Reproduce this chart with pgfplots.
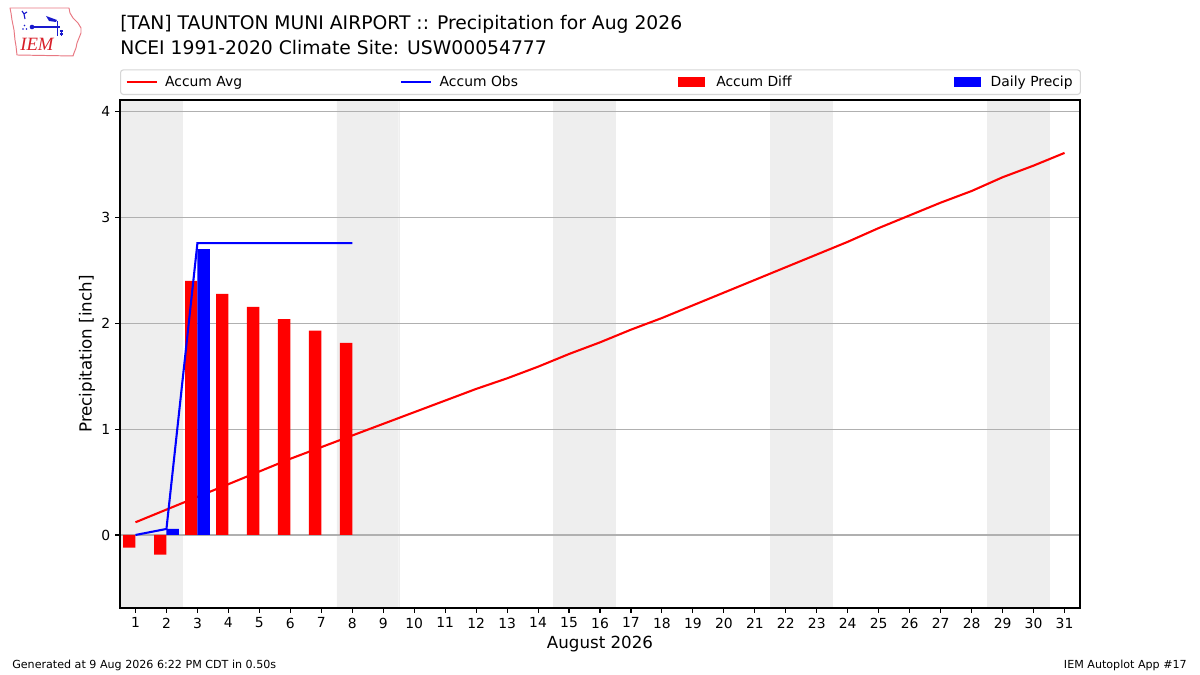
\documentclass[border=0pt]{standalone}
\usepackage{fontspec}
\setmainfont{DejaVu Sans}
\newfontfamily\seriffont{Liberation Serif}
\usepackage{pgfplots}
\usepackage{pgfplotstable}
\pgfplotsset{compat=1.18}
\definecolor{wkend}{RGB}{238,238,238}
\definecolor{gridc}{RGB}{176,176,176}
\definecolor{legframe}{RGB}{214,214,214}
\definecolor{iempink}{RGB}{232,120,130}
\definecolor{iemred}{RGB}{215,30,40}
\definecolor{iemblue}{RGB}{25,25,205}

\pgfplotstableread{
day avg
1 0.12
2 0.24
3 0.36
4 0.48
5 0.60
6 0.72
7 0.83
8 0.94
9 1.05
10 1.16
11 1.27
12 1.38
13 1.48
14 1.59
15 1.71
16 1.82
17 1.94
18 2.05
19 2.17
20 2.29
21 2.41
22 2.53
23 2.65
24 2.77
25 2.90
26 3.02
27 3.14
28 3.25
29 3.38
30 3.49
31 3.61
}\avgtable

\pgfplotstableread{
day obs
1 0.00
2 0.057
3 2.757
4 2.757
5 2.757
6 2.757
7 2.757
8 2.757
}\obstable

\pgfplotstableread{
day diff
1 -0.12
2 -0.186
3 2.40
4 2.278
5 2.155
6 2.04
7 1.93
8 1.815
}\difftable

\pgfplotstableread{
day precip
2 0.057
3 2.70
}\dailytable

\begin{document}
\begin{tikzpicture}
\path[use as bounding box] (0,0) rectangle (864bp,486bp);
\begin{axis}[
  at={(86.4bp,48.24bp)}, anchor=south west,
  width=691.2bp, height=365.76bp, scale only axis,
  axis on top,
  xmin=0.5, xmax=31.5, ymin=-0.69, ymax=4.11,
  xtick={1,...,31}, ytick={0,1,2,3,4},
  tick pos=left, tick align=outside,
  major tick length=3.5bp,
  tick style={black, line width=0.8bp},
  axis line style={black, line width=0.8bp},
  /pgf/number format/assume math mode=true,
  tick label style={font=\fontsize{10bp}{12bp}\selectfont},
  xlabel={August 2026}, ylabel={Precipitation [inch]},
  every axis x label/.style={at={(axis description cs:0.5,-0.0807)}, anchor=base, font=\fontsize{12bp}{14bp}\selectfont},
  every axis y label/.style={at={(axis description cs:-0.0344,0.5)}, rotate=90, anchor=center, font=\fontsize{12bp}{14bp}\selectfont},
  legend columns=4,
  legend cell align=left,
  legend style={at={(0,1)}, anchor=south west, yshift=3.6bp,
    draw=legframe, line width=0.8bp, rounded corners=2bp, fill=white,
    inner xsep=3.6bp, inner ysep=4.3bp, column sep=0pt, row sep=0pt,
    font=\fontsize{10bp}{12bp}\selectfont, nodes={inner sep=0pt}},
]
\addlegendimage{legend image code/.code={\draw[red, line width=1.5bp, sharp corners] (0bp,0bp) -- (21.6bp,0bp);}}
\addlegendentry{\makebox[174.6bp][l]{\hspace*{5.4bp}Accum Avg}}
\addlegendimage{legend image code/.code={\draw[blue, line width=1.5bp, sharp corners] (0bp,0bp) -- (21.6bp,0bp);}}
\addlegendentry{\makebox[174.6bp][l]{\hspace*{5.4bp}Accum Obs}}
\addlegendimage{legend image code/.code={\path[draw=none, fill=none] (0bp,0bp) -- (21.6bp,0bp); \fill[red, draw=none, sharp corners] (2.2bp,-3.6bp) rectangle (21.6bp,3.6bp);}}
\addlegendentry{\makebox[177.5bp][l]{\hspace*{8.3bp}Accum Diff}}
\addlegendimage{legend image code/.code={\path[draw=none, fill=none] (0bp,0bp) -- (21.6bp,0bp); \fill[blue, draw=none, sharp corners] (2.2bp,-3.6bp) rectangle (21.6bp,3.6bp);}}
\addlegendentry{\makebox[67.8bp][l]{\hspace*{6.8bp}Daily Precip}}

% weekend shading
\addplot[ybar, bar width=2, bar shift=0pt, fill=wkend, draw=wkend, line width=0.3bp, forget plot] coordinates {(1.5,4.11) (8.5,4.11) (15.5,4.11) (22.5,4.11) (29.5,4.11)};
\addplot[ybar, bar width=2, bar shift=0pt, fill=wkend, draw=wkend, line width=0.3bp, forget plot] coordinates {(1.5,-0.69) (8.5,-0.69) (15.5,-0.69) (22.5,-0.69) (29.5,-0.69)};
% horizontal grid lines
\addplot[gridc, line width=0.8bp, forget plot] coordinates {(0.5,0) (31.5,0)};
\addplot[gridc, line width=0.8bp, forget plot] coordinates {(0.5,1) (31.5,1)};
\addplot[gridc, line width=0.8bp, forget plot] coordinates {(0.5,2) (31.5,2)};
\addplot[gridc, line width=0.8bp, forget plot] coordinates {(0.5,3) (31.5,3)};
\addplot[gridc, line width=0.8bp, forget plot] coordinates {(0.5,4) (31.5,4)};

\addplot[red, line width=1.5bp, forget plot] table[x=day, y=avg] {\avgtable};
\addplot[ybar, bar width=0.4, bar shift=0pt, fill=red, draw=none, forget plot] table[x expr=\thisrow{day}-0.2, y=diff] {\difftable};
\addplot[ybar, bar width=0.4, bar shift=0pt, fill=blue, draw=none, forget plot] table[x expr=\thisrow{day}+0.2, y=precip] {\dailytable};
\addplot[blue, line width=1.5bp, forget plot] table[x=day, y=obs] {\obstable};
\end{axis}

\begin{scope}[shift={(0bp,486bp)}, x=0.72bp, y=-0.72bp]
  % logo
  \draw[iempink, line width=0.7bp, line join=round]
    (10,8) -- (69,8) -- (70,13) -- (73,18) -- (78,23) -- (81,28) -- (81,33) -- (79,38)
    -- (77,43) -- (76,48) -- (74,53) -- (73,56) -- (17,55) -- (16,46) -- (15,40) -- (14,30) -- (12,20) -- (11,13) -- cycle;
  \node[anchor=base west, inner sep=0pt, text=iemred] at (20,51) {\fontsize{13.5bp}{14bp}\seriffont\itshape IEM};
  \draw[iemblue, line width=1.3bp] (32,27) -- (60,27);
  \fill[iemblue] (32,27) circle (2.3);
  \fill[iemblue] (46,16) -- (57,20) -- (56,22) -- (49,21) -- cycle;
  \draw[iemblue, line width=1bp] (57.5,21) -- (57.5,36) (60,31) -- (63,31) (60,34) -- (63,34) (61.5,30) -- (61.5,36);
  \draw[iemblue, line width=0.8bp] (25,19) -- (24,14) -- (22,11) (24,14) -- (27,12);
  \fill[iemblue] (24.5,25.5) circle (0.9) (23,29) circle (0.9) (26.5,29) circle (0.9);
  % titles
  \node[anchor=base west, inner sep=0pt] at (120,30) {\fontsize{13.5bp}{16bp}\selectfont [TAN] TAUNTON MUNI AIRPORT :: Precipitation for Aug 2026};
  \node[anchor=base west, inner sep=0pt] at (120,54.3) {\fontsize{13.5bp}{16bp}\selectfont NCEI 1991-2020 Climate Site: USW00054777};
  % footer
  \node[anchor=base west, inner sep=0pt] at (12,668.7) {\fontsize{8bp}{10bp}\selectfont Generated at 9 Aug 2026 6:22 PM CDT in 0.50s};
  \node[anchor=base east, inner sep=0pt] at (1187,668.7) {\fontsize{8bp}{10bp}\selectfont IEM Autoplot App \#17};
\end{scope}
\end{tikzpicture}
\end{document}
